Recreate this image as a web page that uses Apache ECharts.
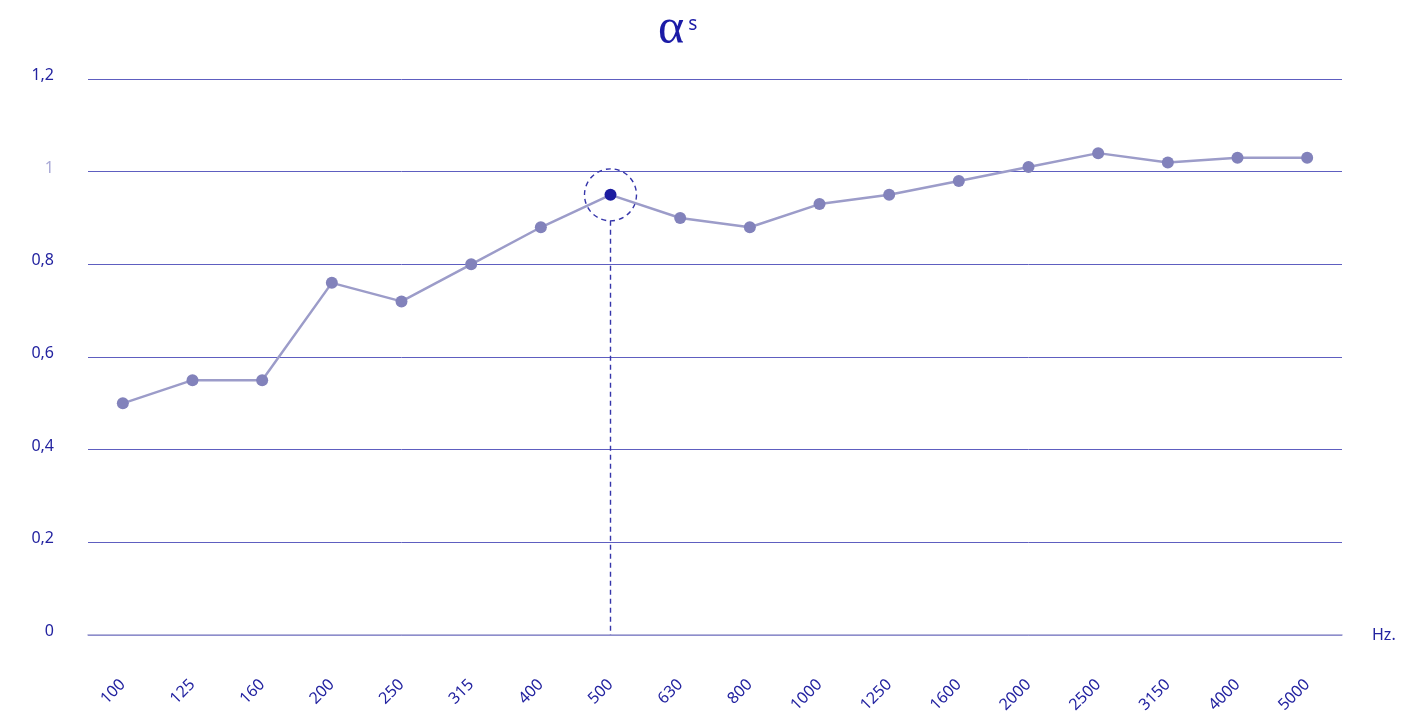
<!DOCTYPE html>
<html>
<head>
<meta charset="utf-8">
<script src="https://cdn.jsdelivr.net/npm/echarts@6/dist/echarts.min.js"></script>
<style>
  html, body { margin: 0; padding: 0; background: #ffffff; }
  #chart { width: 1424px; height: 712px; }
</style>
</head>
<body>
<div id="chart"></div>
<script>
// Frequency bands (Hz)
const frequencies = ['100', '125', '160', '200', '250', '315', '400', '500', '630',
  '800', '1000', '1250', '1600', '2000', '2500', '3150', '4000', '5000'];
// Sound absorption coefficient per band
const absorption = [0.50, 0.55, 0.55, 0.76, 0.72, 0.80, 0.88, 0.95, 0.90,
  0.88, 0.93, 0.95, 0.98, 1.01, 1.04, 1.02, 1.03, 1.03];
// Y axis ticks
const yTicks = [0, 0.2, 0.4, 0.6, 0.8, 1, 1.2];
const yTickLabels = ['0', '0,2', '0,4', '0,6', '0,8', '1', '1,2'];
// Highlighted band
const highlightBand = '500';

const highlightIndex = frequencies.indexOf(highlightBand);
const FONT = '"Noto Sans", Lato, sans-serif';
const DARK = '#2323a0';

const chart = echarts.init(document.getElementById('chart'));

chart.setOption({
  backgroundColor: '#ffffff',
  animation: false,
  title: {
    text: '{a|α}{s|s}',
    left: 653,
    top: 0,
    textStyle: {
      fontWeight: 'normal',
      rich: {
        a: { fontFamily: '"Liberation Serif", serif', fontSize: 50, fontWeight: 'normal', color: '#1b1ba6', lineHeight: 50 },
        s: { fontFamily: FONT, fontSize: 19, fontWeight: 'normal', color: '#1b1ba6', lineHeight: 50, padding: [0, 0, 10, 4] }
      }
    }
  },
  grid: { left: 88, right: 82, top: 79, bottom: 77, containLabel: false, outerBoundsMode: 'none' },
  xAxis: {
    type: 'category',
    data: frequencies,
    boundaryGap: true,
    name: 'Hz.',
    nameLocation: 'end',
    nameGap: 30,
    nameTextStyle: { color: DARK, fontFamily: FONT, fontSize: 16, padding: [0, 0, 12, 0] },
    axisLine: { show: true, lineStyle: { color: '#9d9dd0', width: 1.5 } },
    axisTick: { show: false },
    axisLabel: {
      rotate: 45,
      margin: 47,
      color: DARK,
      fontFamily: FONT,
      fontSize: 16,
      interval: 0
    },
    splitLine: { show: false }
  },
  yAxis: {
    type: 'value',
    min: 0,
    max: 1.2,
    interval: 0.2,
    axisLine: { show: false },
    axisTick: { show: false },
    splitLine: { show: true, lineStyle: { color: '#5e5ec0', width: 1 } },
    axisLabel: {
      margin: 34,
      padding: [0, 0, 7, 0],
      formatter: function (v) {
        const i = yTicks.findIndex(t => Math.abs(t - v) < 1e-9);
        const txt = i >= 0 ? yTickLabels[i] : '';
        return v === 1 ? '{light|' + txt + '}' : '{dark|' + txt + '}';
      },
      rich: {
        dark: { color: DARK, fontFamily: FONT, fontSize: 16 },
        light: { color: '#a9a9d6', fontFamily: FONT, fontSize: 16 }
      }
    }
  },
  series: [
    {
      type: 'line',
      data: absorption.map((v, i) => i === highlightIndex
        ? { value: v, itemStyle: { color: '#1c1ca0' } }
        : v),
      symbol: 'circle',
      symbolSize: 12,
      lineStyle: { color: '#9c9cc9', width: 2.5 },
      itemStyle: { color: '#8282bb' },
      z: 3
    },
    {
      // dashed ring around the highlighted band and drop line to the axis
      type: 'custom',
      data: [[highlightIndex, absorption[highlightIndex]]],
      z: 2,
      silent: true,
      renderItem: function (params, api) {
        const p = api.coord([api.value(0), api.value(1)]);
        const base = api.coord([api.value(0), 0]);
        const r = 26;
        const stroke = { stroke: '#3636aa', lineWidth: 1.4, lineDash: [5, 4], fill: null };
        return {
          type: 'group',
          children: [
            { type: 'circle', shape: { cx: p[0], cy: p[1], r: r }, style: stroke },
            { type: 'line', shape: { x1: p[0], y1: p[1] + r, x2: p[0], y2: base[1] }, style: stroke }
          ]
        };
      }
    }
  ]
});
</script>
</body>
</html>
